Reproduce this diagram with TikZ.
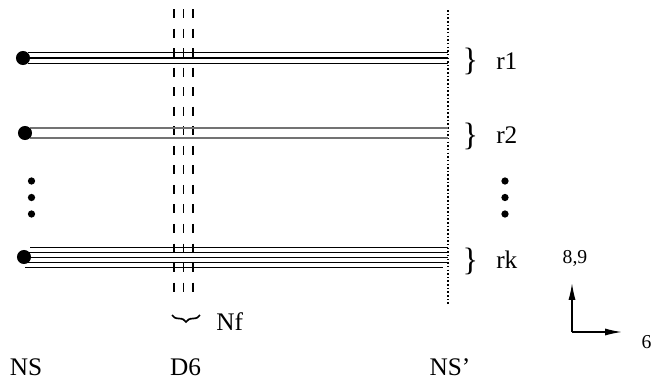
\documentclass[tikz,border=0pt]{standalone}
\usepackage{fontspec}
\setmainfont{Liberation Serif}
\usetikzlibrary{arrows.meta,decorations.pathreplacing}

\begin{document}
\begin{tikzpicture}[x=0.25mm,y=-0.25mm,
    every node/.style={font=\fontsize{18}{20}\selectfont,inner sep=0pt},
    strand/.style={line width=.75pt},
    bead/.style={fill,circle,inner sep=0pt,minimum size=10pt},
    pt/.style={fill,circle,inner sep=0pt,minimum size=5.2pt},
    rbrace/.style={font=\fontsize{23}{24}\selectfont},
    axis/.style={line width=1pt,-{Latex[length=12pt,width=5pt]}}]
  \useasboundingbox (0,0) rectangle (652,379);
  % D6 branes
  \foreach \x in {174,183.5,193}
    \draw[line width=1.2pt,dash pattern=on 6.4pt off 7.5pt] (\x,9) -- (\x,297);
  % NS' brane
  \draw[line width=1.1pt,dash pattern=on 1.1pt off 1.5pt] (448,10) -- (448,304);
  % r1
  \foreach \dy in {-5.2,0,5.2}
    \draw[strand] (28,58+\dy) -- (448,58+\dy);
  \node[bead] (s1) at (23,58) {};
  % r2
  \foreach \dy in {-5,5}
    \draw[strand,black!55] (30,133+\dy) -- (448,133+\dy);
  \node[bead] (s2) at (25,133) {};
  % rk
  \draw[strand] (30,247.5) -- (448,247.5);
  \foreach \dy in {5,10,15}
    \draw[strand] (25,247.5+\dy) -- (448,247.5+\dy);
  \draw[strand] (25,267.5) -- (443,267.5);
  \node[bead] (sk) at (24,257) {};
  \foreach \y [count=\i] in {181,197.5,214} {
    \node[pt] (l\i) at (31.5,\y) {};
    \node[pt] (r\i) at (505,\y) {};
  }
  % labels on the right
  \node[rbrace] (b1) at (470.5,61) {\}};
  \node[rbrace] (b2) at (470.5,136) {\}};
  \node[rbrace] (bk) at (470.5,261) {\}};
  \node[anchor=base west] (t1) at (496,69) {r1};
  \node[anchor=base west] (t2) at (496,143) {r2};
  \node[anchor=base west] (tk) at (496,268) {rk};
  % Nf
  \draw[decorate,decoration={brace,amplitude=5pt},line width=1.2pt] (200,315) -- (172,315);
  \node[anchor=base west] (nf) at (216,330) {Nf};
  % bottom
  \node[anchor=base,text depth=0pt] (ns) at (26,375.5) {NS};
  \node[anchor=base,text depth=0pt] (d6) at (185.5,375.5) {D6};
  \node[anchor=base,text depth=0pt] (nsp) at (450,375.5) {NS'};
  % directions
  \coordinate (o) at (572,332);
  \coordinate (o89) at (572,283);
  \coordinate (o6) at (622,332);
  \draw[axis] (o) -- (o89);
  \draw[axis] (o) -- (o6);
  \node[anchor=base,font=\fontsize{14}{16}\selectfont] (a89) at (575,263) {8,9};
  \node[anchor=base,font=\fontsize{14}{16}\selectfont] (a6) at (646.5,348) {6};
\end{tikzpicture}
\end{document}
